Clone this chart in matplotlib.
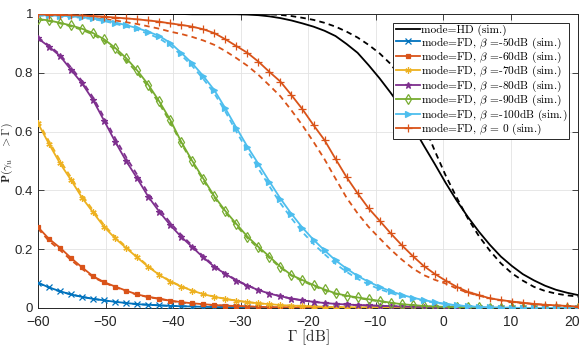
import numpy as np
import matplotlib
matplotlib.use("Agg")
import matplotlib.pyplot as plt
from matplotlib.transforms import ScaledTranslation

plt.rcParams['font.family'] = ['Liberation Sans', 'DejaVu Sans']
plt.rcParams['mathtext.fontset'] = 'cm'
plt.rcParams['lines.scale_dashes'] = False

# SNR threshold grid (dB)
gamma_db = np.linspace(-60, 20, 50)

# ---- simulated curves ----
hd_sim = [1.0, 1.0, 1.0, 1.0, 1.0, 1.0, 1.0, 1.0, 1.0, 1.0,
          1.0, 1.0, 1.0, 1.0, 0.999, 0.999, 0.999, 0.999, 0.999, 0.998,
          0.996, 0.992, 0.986, 0.978, 0.968, 0.957, 0.943, 0.925, 0.898, 0.868,
          0.826, 0.781, 0.732, 0.680, 0.618, 0.553, 0.490, 0.425, 0.365, 0.310,
          0.260, 0.215, 0.175, 0.143, 0.115, 0.094, 0.076, 0.062, 0.052, 0.044]
bl_sim = [0.086, 0.070, 0.057, 0.046, 0.038, 0.031, 0.026, 0.021, 0.017, 0.013,
          0.011, 0.009, 0.007, 0.006, 0.005, 0.004, 0.003, 0.003, 0.002, 0.002,
          0.001, 0.001, 0.001, 0.0, 0.0, 0.0, 0.0, 0.0, 0.0, 0.0,
          0.0, 0.0, 0.0, 0.0, 0.0, 0.0, 0.0, 0.0, 0.0, 0.0,
          0.0, 0.0, 0.0, 0.0, 0.0, 0.0, 0.0, 0.0, 0.0, 0.0]
or_sim = [0.275, 0.235, 0.205, 0.170, 0.138, 0.108, 0.088, 0.073, 0.059, 0.046,
          0.038, 0.032, 0.025, 0.020, 0.016, 0.013, 0.010, 0.008, 0.007, 0.005,
          0.004, 0.003, 0.003, 0.002, 0.002, 0.001, 0.001, 0.001, 0.0, 0.0,
          0.0, 0.0, 0.0, 0.0, 0.0, 0.0, 0.0, 0.0, 0.0, 0.0,
          0.0, 0.0, 0.0, 0.0, 0.0, 0.0, 0.0, 0.0, 0.0, 0.0]
ye_sim = [0.628, 0.558, 0.492, 0.435, 0.375, 0.325, 0.276, 0.237, 0.204, 0.172,
          0.140, 0.113, 0.090, 0.073, 0.059, 0.047, 0.038, 0.031, 0.025, 0.020,
          0.016, 0.013, 0.010, 0.008, 0.007, 0.005, 0.004, 0.003, 0.003, 0.002,
          0.002, 0.001, 0.001, 0.0, 0.0, 0.0, 0.0, 0.0, 0.0, 0.0,
          0.0, 0.0, 0.0, 0.0, 0.0, 0.0, 0.0, 0.0, 0.0, 0.0]
pu_sim = [0.917, 0.889, 0.857, 0.810, 0.764, 0.707, 0.637, 0.566, 0.500, 0.441,
          0.379, 0.328, 0.282, 0.242, 0.207, 0.172, 0.140, 0.116, 0.093, 0.076,
          0.061, 0.049, 0.040, 0.032, 0.026, 0.021, 0.017, 0.014, 0.012, 0.010,
          0.009, 0.008, 0.006, 0.005, 0.004, 0.003, 0.003, 0.002, 0.002, 0.001,
          0.001, 0.0, 0.0, 0.0, 0.0, 0.0, 0.0, 0.0, 0.0, 0.0]
gr_sim = [0.983, 0.978, 0.970, 0.961, 0.950, 0.935, 0.914, 0.885, 0.850, 0.808,
          0.760, 0.703, 0.640, 0.565, 0.500, 0.440, 0.380, 0.330, 0.286, 0.243,
          0.208, 0.175, 0.140, 0.112, 0.095, 0.078, 0.063, 0.050, 0.042, 0.036,
          0.030, 0.024, 0.018, 0.013, 0.010, 0.007, 0.005, 0.004, 0.003, 0.002,
          0.002, 0.001, 0.001, 0.0, 0.0, 0.0, 0.0, 0.0, 0.0, 0.0]
lb_sim = [0.996, 0.995, 0.994, 0.992, 0.989, 0.985, 0.980, 0.971, 0.962, 0.952,
          0.940, 0.925, 0.902, 0.868, 0.832, 0.789, 0.741, 0.679, 0.613, 0.549,
          0.490, 0.430, 0.372, 0.320, 0.273, 0.232, 0.196, 0.162, 0.134, 0.109,
          0.089, 0.072, 0.057, 0.045, 0.035, 0.027, 0.020, 0.014, 0.009, 0.006,
          0.004, 0.002, 0.001, 0.001, 0.0, 0.0, 0.0, 0.0, 0.0, 0.0]
bz_sim = [0.999, 0.998, 0.997, 0.996, 0.995, 0.993, 0.991, 0.988, 0.985, 0.982,
          0.978, 0.974, 0.968, 0.963, 0.957, 0.948, 0.935, 0.914, 0.891, 0.868,
          0.838, 0.803, 0.770, 0.724, 0.676, 0.622, 0.571, 0.507, 0.445, 0.390,
          0.339, 0.297, 0.254, 0.214, 0.177, 0.143, 0.116, 0.093, 0.072, 0.055,
          0.044, 0.033, 0.027, 0.022, 0.018, 0.014, 0.011, 0.009, 0.007, 0.005]

# ---- analytical curves (dashed) ----
hd_ana = [1.0, 1.0, 1.0, 1.0, 1.0, 1.0, 1.0, 1.0, 1.0, 1.0,
          1.0, 1.0, 1.0, 1.0, 1.0, 1.0, 1.0, 1.0, 1.0, 1.0,
          1.0, 0.999, 0.997, 0.993, 0.987, 0.980, 0.970, 0.957, 0.940, 0.920,
          0.895, 0.866, 0.830, 0.780, 0.710, 0.625, 0.535, 0.450, 0.375, 0.305,
          0.245, 0.195, 0.152, 0.118, 0.093, 0.072, 0.058, 0.049, 0.043, 0.039]
bl_ana = [0.085, 0.069, 0.056, 0.046, 0.038, 0.031, 0.026, 0.021, 0.017, 0.013,
          0.011, 0.009, 0.007, 0.006, 0.005, 0.004, 0.003, 0.003, 0.002, 0.002,
          0.001, 0.001, 0.001, 0.0, 0.0, 0.0, 0.0, 0.0, 0.0, 0.0,
          0.0, 0.0, 0.0, 0.0, 0.0, 0.0, 0.0, 0.0, 0.0, 0.0,
          0.0, 0.0, 0.0, 0.0, 0.0, 0.0, 0.0, 0.0, 0.0, 0.0]
or_ana = [0.270, 0.228, 0.197, 0.163, 0.133, 0.105, 0.086, 0.071, 0.057, 0.045,
          0.037, 0.031, 0.024, 0.019, 0.015, 0.012, 0.010, 0.008, 0.006, 0.005,
          0.004, 0.003, 0.003, 0.002, 0.002, 0.001, 0.001, 0.001, 0.0, 0.0,
          0.0, 0.0, 0.0, 0.0, 0.0, 0.0, 0.0, 0.0, 0.0, 0.0,
          0.0, 0.0, 0.0, 0.0, 0.0, 0.0, 0.0, 0.0, 0.0, 0.0]
ye_ana = [0.635, 0.567, 0.502, 0.444, 0.384, 0.332, 0.282, 0.242, 0.208, 0.175,
          0.143, 0.115, 0.092, 0.074, 0.060, 0.048, 0.039, 0.031, 0.025, 0.020,
          0.016, 0.013, 0.010, 0.008, 0.007, 0.005, 0.004, 0.003, 0.003, 0.002,
          0.002, 0.001, 0.001, 0.0, 0.0, 0.0, 0.0, 0.0, 0.0, 0.0,
          0.0, 0.0, 0.0, 0.0, 0.0, 0.0, 0.0, 0.0, 0.0, 0.0]
pu_ana = [0.920, 0.893, 0.862, 0.818, 0.772, 0.716, 0.648, 0.578, 0.513, 0.453,
          0.390, 0.338, 0.290, 0.249, 0.212, 0.176, 0.143, 0.118, 0.095, 0.077,
          0.062, 0.050, 0.040, 0.032, 0.026, 0.021, 0.017, 0.014, 0.012, 0.010,
          0.008, 0.007, 0.006, 0.005, 0.004, 0.003, 0.002, 0.002, 0.001, 0.001,
          0.0, 0.0, 0.0, 0.0, 0.0, 0.0, 0.0, 0.0, 0.0, 0.0]
gr_ana = [0.982, 0.976, 0.968, 0.958, 0.946, 0.930, 0.908, 0.878, 0.842, 0.800,
          0.752, 0.695, 0.632, 0.560, 0.495, 0.435, 0.376, 0.326, 0.280, 0.238,
          0.203, 0.170, 0.137, 0.110, 0.092, 0.075, 0.060, 0.048, 0.040, 0.034,
          0.028, 0.022, 0.017, 0.012, 0.009, 0.006, 0.004, 0.003, 0.002, 0.001,
          0.001, 0.001, 0.0, 0.0, 0.0, 0.0, 0.0, 0.0, 0.0, 0.0]
lb_ana = [0.995, 0.994, 0.992, 0.990, 0.987, 0.982, 0.976, 0.967, 0.957, 0.946,
          0.933, 0.917, 0.893, 0.860, 0.823, 0.779, 0.730, 0.668, 0.600, 0.535,
          0.474, 0.414, 0.356, 0.305, 0.258, 0.218, 0.183, 0.150, 0.123, 0.099,
          0.080, 0.064, 0.051, 0.040, 0.031, 0.024, 0.018, 0.013, 0.009, 0.006,
          0.004, 0.002, 0.001, 0.001, 0.0, 0.0, 0.0, 0.0, 0.0, 0.0]
bz_ana = [0.999, 0.998, 0.996, 0.994, 0.991, 0.987, 0.983, 0.978, 0.972, 0.966,
          0.958, 0.950, 0.940, 0.932, 0.922, 0.910, 0.895, 0.874, 0.850, 0.824,
          0.793, 0.757, 0.720, 0.672, 0.621, 0.565, 0.506, 0.440, 0.375, 0.322,
          0.276, 0.237, 0.199, 0.165, 0.135, 0.112, 0.096, 0.083, 0.066, 0.052,
          0.042, 0.033, 0.026, 0.021, 0.017, 0.013, 0.011, 0.009, 0.007, 0.005]

labels = ['mode=HD (sim.)',
          r'mode=FD, $\beta$ =-50dB (sim.)',
          r'mode=FD, $\beta$ =-60dB (sim.)',
          r'mode=FD, $\beta$ =-70dB (sim.)',
          r'mode=FD, $\beta$ =-80dB (sim.)',
          r'mode=FD, $\beta$ =-90dB (sim.)',
          r'mode=FD, $\beta$ =-100dB (sim.)',
          r'mode=FD, $\beta$ = 0 (sim.)']
sims = [hd_sim, bl_sim, or_sim, ye_sim, pu_sim, gr_sim, lb_sim, bz_sim]
anas = [hd_ana, bl_ana, or_ana, ye_ana, pu_ana, gr_ana, lb_ana, bz_ana]
colors = ['#000000', '#0072BD', '#D95319', '#EDB120', '#7E2F8E', '#77AC30', '#4DBEEE', '#D95319']
markers = [None, 'x', 's', (6, 2, 0), '*', 'd', '>', '+']
msizes = [0, 4.2, 3.2, 4.5, 5.0, 5.0, 4.0, 5.5]
filled = [True, True, True, True, True, False, True, True]

fig = plt.figure(figsize=(5.84, 3.47), dpi=100)
ax = fig.add_axes([38/584, 39/347, 540/584, 294/347])

handles = []
for s, a, c, m, ms, f, lab in zip(sims, anas, colors, markers, msizes, filled, labels):
    h, = ax.plot(gamma_db, s, color=c, lw=1.3, marker=m, ms=ms, mew=0.9,
                 mfc=(c if f else 'none'), mec=c, label=lab, zorder=3)
    ax.plot(gamma_db, a, color=c, lw=1.3, ls=(0, (4, 3)), zorder=2)
    handles.append(h)

ax.set_xlim(-60, 20)
ax.set_ylim(0, 1)
ax.set_xticks(np.arange(-60, 21, 10))
ax.set_yticks([0, 0.2, 0.4, 0.6, 0.8, 1.0])
ax.set_yticklabels(['0', '0.2', '0.4', '0.6', '0.8', '1'])
ax.grid(True, color='#e3e3e3', lw=0.6)
ax.set_axisbelow(True)
for sp in ax.spines.values():
    sp.set_color('#262626')
    sp.set_linewidth(0.7)
ax.tick_params(direction='in', length=4, width=0.6, top=True, right=True,
               colors='#262626', labelsize=10)
ax.tick_params(axis='y', labelsize=9.5, pad=3.5)
ax.tick_params(axis='x', pad=5)

# keep the last x tick label inside the canvas
last = ax.get_xticklabels()[-1]
last.set_transform(last.get_transform() + ScaledTranslation(-6/100, 0, fig.dpi_scale_trans))

ax.set_xlabel(r'$\Gamma$ [dB]', family='cmr10', fontsize=11, color='#262626', labelpad=-1)
ax.set_ylabel(r'$\mathbf{P}(\gamma_u\quad > \Gamma)$', fontsize=8.5, color='#262626')
ax.yaxis.set_label_coords(-0.043, 0.53)

leg = ax.legend(handles=handles, loc='upper right', prop={'family': 'cmr10', 'size': 8.2},
                frameon=True, fancybox=False, framealpha=1, edgecolor='#262626',
                borderaxespad=0.75, borderpad=0.2, labelspacing=-0.08,
                handlelength=2.1, handletextpad=0.1)
leg.get_frame().set_linewidth(0.7)

fig.savefig('out.png', dpi=100)
